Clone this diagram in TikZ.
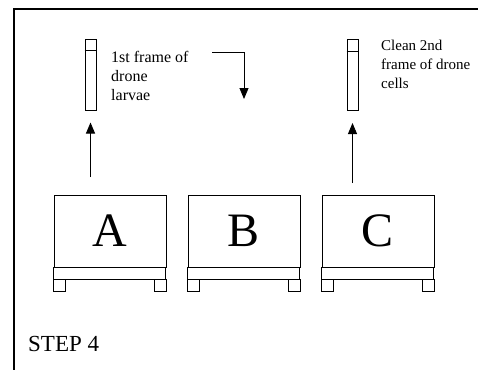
\documentclass[tikz,border=0pt]{standalone}
\usepackage{fontspec}
\setmainfont{Liberation Serif}
\usetikzlibrary{arrows.meta}

\begin{document}
\begin{tikzpicture}[x=1pt, y=-1pt, >={Triangle[length=11pt,width=9pt]}]
  \useasboundingbox (0,0) rectangle (478,370);
  \tikzset{
    hive/.style={draw, line width=1pt, minimum width=112pt, minimum height=72pt,
      inner sep=0pt, font=\fontsize{48}{48}\selectfont},
    tube/.style={draw, line width=1pt, minimum width=11pt, minimum height=71pt, inner sep=0pt},
    note/.style={anchor=north west, inner sep=0pt, align=left,
      font=\fontsize{15}{19}\selectfont}
  }

  % Page frame (top and left edges only)
  \draw[line width=1.6pt] (478,9) -| (14,370);

  % Hives with base strip and feet
  \foreach \n/\x in {A/110, B/244, C/378} {
    \node[hive] (\n) at (\x,231) {\n};
    \draw[line width=1pt] (\n.south west) rectangle ++(112,12);
    \draw[line width=1.6pt] (\n.south west) -- (\n.south east);
    \draw[line width=1pt] ([yshift=-12pt]\n.south west) rectangle ++(12,12);
    \draw[line width=1pt] ([yshift=-12pt]\n.south east) rectangle ++(-12,12);
  }

  % Frames lifted out of A and C
  \node[tube] (f1) at (90.5,74.5) {};
  \node[tube] (f2) at (352.5,75) {};
  \draw[line width=1pt] ([yshift=-12pt]f1.north west) -- ([yshift=-12pt]f1.north east);
  \draw[line width=1pt] ([yshift=-12pt]f2.north west) -- ([yshift=-12pt]f2.north east);

  % Arrows
  \coordinate (a1) at (90.5,177);
  \coordinate (a2) at (352.5,183);
  \draw[->, line width=0.9pt, shorten >=12pt] (a1) -- (f1);
  \draw[->, line width=0.9pt, shorten >=12pt] (a2) -- (f2);
  \coordinate (b0) at (212,52);
  \coordinate (b1) at (244,99);
  \draw[->, line width=0.9pt] (b0) -| (b1);

  % Labels
  \node[note, font=\fontsize{16}{19}\selectfont] (t1) at (111,51) {1st frame of\\drone\\larvae};
  \node[note] (t2) at (381,40) {Clean 2nd\\frame of drone\\cells};
  \node[anchor=base west, inner sep=0pt, font=\fontsize{23}{23}\selectfont] (step) at (28,351) {STEP 4};
\end{tikzpicture}
\end{document}
